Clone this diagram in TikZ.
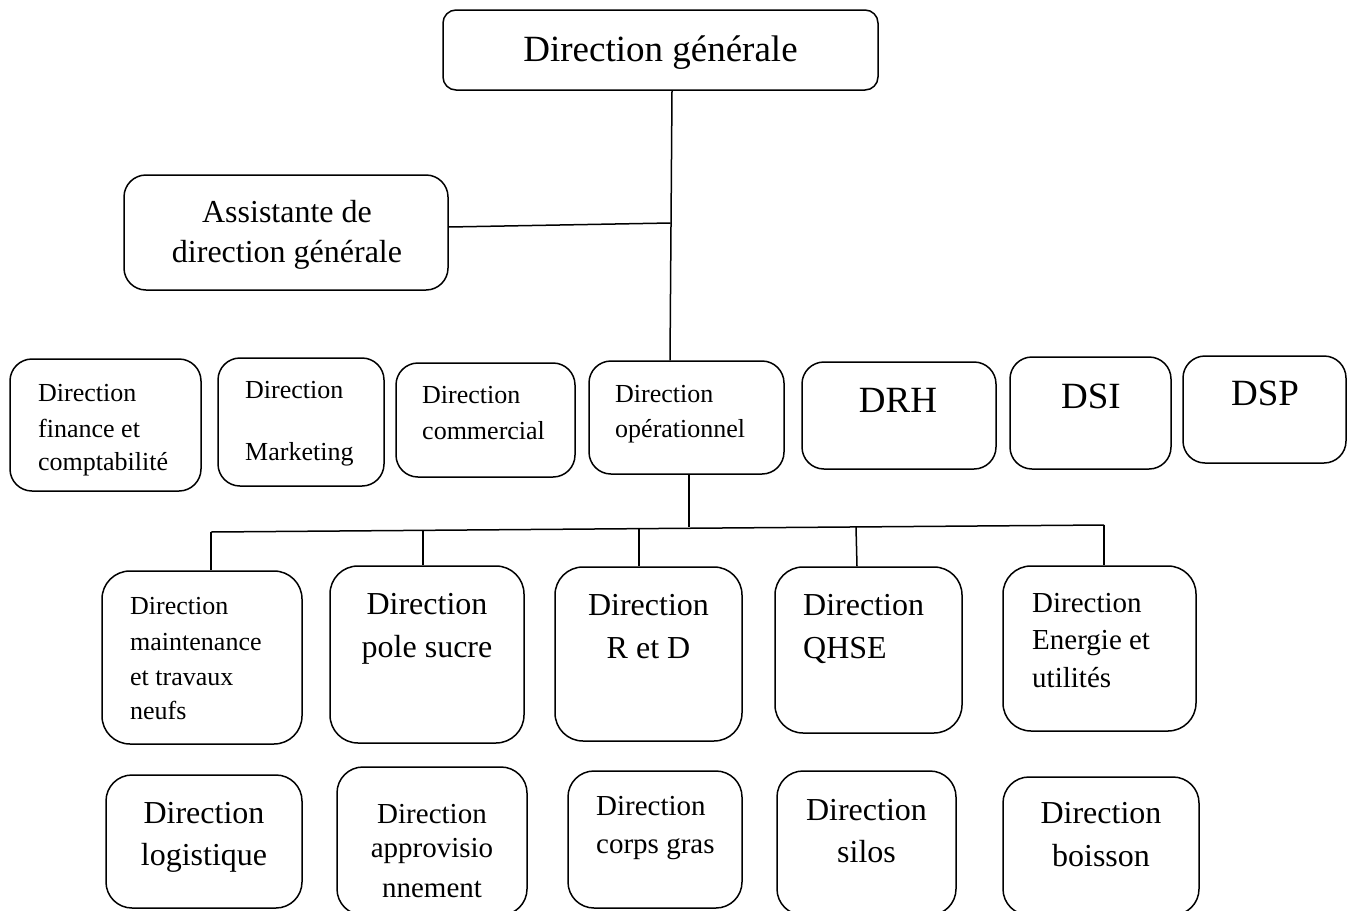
\documentclass[tikz,border=0pt]{standalone}
\usepackage{fontspec}
\setmainfont{Liberation Serif}
\newcommand\fsz[1]{\fontsize{#1}{#1}\selectfont}
\begin{document}
\begin{tikzpicture}[x=1pt,y=-1pt,
  box/.style={draw, line width=1.5pt, inner sep=0pt},
  ln/.style={line width=1.5pt},
  tl/.style={inner sep=0pt, anchor=base west},
  tc/.style={inner sep=0pt, anchor=base}]
\useasboundingbox (0,0) rectangle (1351,910);
\clip (0,0) rectangle (1351,910);
\fill[white] (0,0) rectangle (1351,910);
% boxes
\node[box, rounded corners=13pt, minimum width=435pt, minimum height=80pt] (dg) at (660.5,50) {};
\node[box, rounded corners=22pt, minimum width=324pt, minimum height=115pt] (asst) at (286,232.5) {};
\node[box, rounded corners=22pt, minimum width=191pt, minimum height=132pt] (fin) at (105.5,425) {};
\node[box, rounded corners=22pt, minimum width=166pt, minimum height=128pt] (mkt) at (301,422) {};
\node[box, rounded corners=22pt, minimum width=179pt, minimum height=114pt] (com) at (485.5,420) {};
\node[box, rounded corners=22pt, minimum width=195pt, minimum height=113pt] (ops) at (686.5,417.5) {};
\node[box, rounded corners=22pt, minimum width=194pt, minimum height=107pt] (drh) at (899,415.5) {};
\node[box, rounded corners=22pt, minimum width=161pt, minimum height=112pt] (dsi) at (1090.5,413) {};
\node[box, rounded corners=22pt, minimum width=163pt, minimum height=107pt] (dsp) at (1264.5,409.5) {};
\node[box, rounded corners=28pt, minimum width=200pt, minimum height=173pt] (mnt) at (202,657.5) {};
\node[box, rounded corners=28pt, minimum width=194pt, minimum height=177pt] (pole) at (427,654.5) {};
\node[box, rounded corners=28pt, minimum width=187pt, minimum height=174pt] (rd) at (648.5,654) {};
\node[box, rounded corners=28pt, minimum width=187pt, minimum height=166pt] (qhse) at (868.5,650) {};
\node[box, rounded corners=28pt, minimum width=193pt, minimum height=165pt] (ener) at (1099.5,648.5) {};
\node[box, rounded corners=26pt, minimum width=196pt, minimum height=133pt] (log) at (204,841.5) {};
\node[box, rounded corners=26pt, minimum width=190pt, minimum height=148pt] (appr) at (432,841) {};
\node[box, rounded corners=26pt, minimum width=174pt, minimum height=137pt] (corps) at (655,839.5) {};
\node[box, rounded corners=26pt, minimum width=179pt, minimum height=144pt] (silos) at (866.5,843) {};
\node[box, rounded corners=26pt, minimum width=196pt, minimum height=138pt] (boi) at (1101,846) {};
% connectors
\coordinate (j1) at (670.5,223);
\draw[ln] ([xshift=11.5pt]dg.south) -- ([xshift=-16.5pt]ops.north);
\draw[ln] ([yshift=5.5pt]asst.east) -- (j1);
\coordinate (bl) at (211,532);
\coordinate (br) at (1104,525);
\coordinate (b0) at (689,527.2);
\coordinate (v2) at (423,530.3);
\coordinate (v3) at (639,528.6);
\coordinate (v4) at (856,527);
\draw[ln] ([xshift=2.5pt]ops.south) -- (b0);
\draw[ln] (bl) -- (br);
\draw[ln] (bl) -- ([xshift=9pt]mnt.north);
\draw[ln] (v2) -- ([xshift=-4pt]pole.north);
\draw[ln] (v3) -- ([xshift=-9.5pt]rd.north);
\draw[ln] (v4) -- ([xshift=-11.5pt]qhse.north);
\draw[ln] (br) -- ([xshift=4.5pt]ener.north);
% texts
\node[tc, font=\fsz{37}] (tdg) at (660.5,61) {Direction générale};
\node[tc, font=\fsz{32}] (ta1) at (287,222) {Assistante de};
\node[tc, font=\fsz{32}] (ta2) at (287,262) {direction générale};
\node[tl, font=\fsz{26}] (tf1) at (38,401) {Direction};
\node[tl, font=\fsz{26}] (tf2) at (38,437) {finance et};
\node[tl, font=\fsz{26}] (tf3) at (38,470) {comptabilité};
\node[tl, font=\fsz{26}] (tm1) at (245,398) {Direction};
\node[tl, font=\fsz{26}] (tm2) at (245,460) {Marketing};
\node[tl, font=\fsz{26}] (tc1) at (422,403) {Direction};
\node[tl, font=\fsz{26}] (tc2) at (422,439) {commercial};
\node[tl, font=\fsz{26}] (to1) at (615,402) {Direction};
\node[tl, font=\fsz{26}] (to2) at (615,437) {opérationnel};
\node[tc, font=\fsz{37}] (tdrh) at (898,412) {DRH};
\node[tc, font=\fsz{37}] (tdsi) at (1091,408) {DSI};
\node[tc, font=\fsz{37}] (tdsp) at (1265,405) {DSP};
\node[tl, font=\fsz{26}] (tn1) at (130,614) {Direction};
\node[tl, font=\fsz{26}] (tn2) at (130,650) {maintenance};
\node[tl, font=\fsz{26}] (tn3) at (130,685) {et travaux};
\node[tl, font=\fsz{26}] (tn4) at (130,719) {neufs};
\node[tc, font=\fsz{32}] (tp1) at (427,614) {Direction};
\node[tc, font=\fsz{32}] (tp2) at (427,657) {pole sucre};
\node[tc, font=\fsz{32}] (tr1) at (648.5,615) {Direction};
\node[tc, font=\fsz{32}] (tr2) at (648.5,658) {R et D};
\node[tl, font=\fsz{32}] (tq1) at (803,615) {Direction};
\node[tl, font=\fsz{32}] (tq2) at (803,658) {QHSE};
\node[tl, font=\fsz{29}] (te1) at (1032,612) {Direction};
\node[tl, font=\fsz{29}] (te2) at (1032,649) {Energie et};
\node[tl, font=\fsz{29}] (te3) at (1032,687) {utilités};
\node[tc, font=\fsz{32}] (tg1) at (204,823) {Direction};
\node[tc, font=\fsz{32}] (tg2) at (204,865) {logistique};
\node[tc, font=\fsz{29}] (tv1) at (432,823) {Direction};
\node[tc, font=\fsz{29}] (tv2) at (432,857) {approvisio};
\node[tc, font=\fsz{29}] (tv3) at (432,897) {nnement};
\node[tl, font=\fsz{29}] (tk1) at (596,815) {Direction};
\node[tl, font=\fsz{29}] (tk2) at (596,853) {corps gras};
\node[tc, font=\fsz{32}] (ts1) at (866.5,820) {Direction};
\node[tc, font=\fsz{32}] (ts2) at (866.5,862) {silos};
\node[tc, font=\fsz{32}] (tb1) at (1101,823) {Direction};
\node[tc, font=\fsz{32}] (tb2) at (1101,866) {boisson};
\end{tikzpicture}
\end{document}
